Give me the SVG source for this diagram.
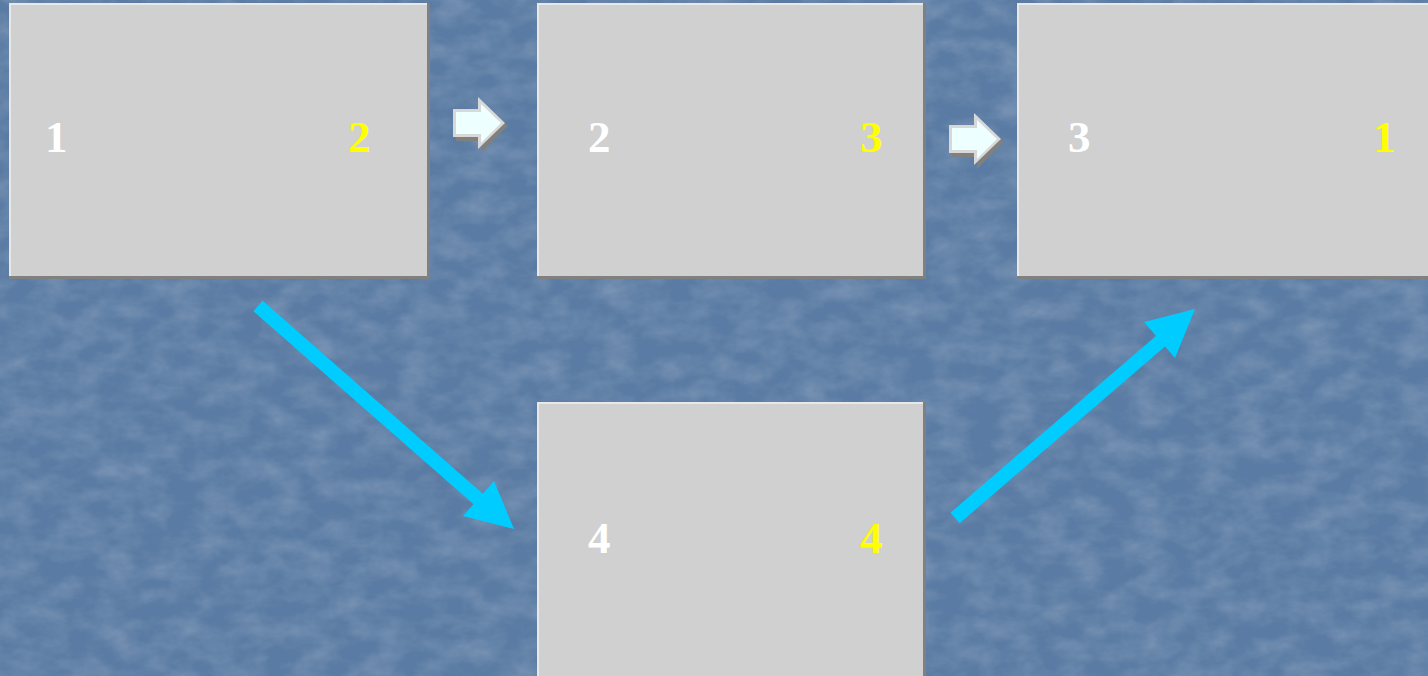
<svg xmlns="http://www.w3.org/2000/svg" width="1428" height="676" viewBox="0 0 1428 676">
<defs>
<style>
.box{fill:#d0d0d0}
.hl{fill:#e8e8e8}
.sh{fill:#808080}
.num{font-family:"Liberation Serif",serif;font-weight:bold;font-size:45px}
.w{fill:#ffffff}
.y{fill:#ffff00}
.big{fill:#00ccff}
</style>
<filter id="tex" x="0" y="0" width="100%" height="100%">
<feTurbulence type="fractalNoise" baseFrequency="0.03 0.05" numOctaves="4" seed="7"/>
<feColorMatrix type="matrix" values="0 0 0 0 1  0 0 0 0 1  0 0 0 0 1  0 0 0 0.3 -0.1"/>
</filter>
<g id="blockarrow">
<path d="M3,15 H28 V3 L55,29 L28,56 V44 H3 Z" fill="#808080"/>
<path d="M0,12 H25 V0 L52,26 L25,52 V40 H0 Z" fill="#d8d8d8"/>
<path d="M3,15 H28 V7 L48,26 L28,46 V37 H3 Z" fill="#eeffff"/>
</g>
</defs>
<rect width="1428" height="676" fill="#5a7ba3"/>
<rect width="1428" height="676" filter="url(#tex)"/>

<g id="node1">
<rect x="9" y="3" width="421" height="276" class="sh"/>
<rect x="9" y="3" width="418" height="273" class="hl"/>
<rect x="11" y="5" width="416" height="271" class="box"/>
<text x="45" y="152" class="num w">1</text>
<text x="348" y="152" class="num y">2</text>
</g>
<g id="node2">
<rect x="537" y="3" width="389" height="276" class="sh"/>
<rect x="537" y="3" width="386" height="273" class="hl"/>
<rect x="539" y="5" width="384" height="271" class="box"/>
<text x="588" y="152" class="num w">2</text>
<text x="860" y="152" class="num y">3</text>
</g>
<g id="node3">
<rect x="1017" y="3" width="420" height="276" class="sh"/>
<rect x="1017" y="3" width="417" height="273" class="hl"/>
<rect x="1019" y="5" width="415" height="271" class="box"/>
<text x="1068" y="152" class="num w">3</text>
<text x="1373" y="152" class="num y">1</text>
</g>
<g id="node4">
<rect x="537" y="402" width="389" height="280" class="sh"/>
<rect x="537" y="402" width="386" height="280" class="hl"/>
<rect x="539" y="404" width="384" height="280" class="box"/>
<text x="588" y="553" class="num w">4</text>
<text x="860" y="553" class="num y">4</text>
</g>

<g id="connectors">
<use href="#blockarrow" x="453" y="97"/>
<use href="#blockarrow" x="949" y="113"/>
<line x1="258" y1="306" x2="485" y2="505" stroke="#00ccff" stroke-width="14"/>
<path d="M514,529 L494,481 L463,516 Z" class="big"/>
<line x1="955" y1="518" x2="1170" y2="333" stroke="#00ccff" stroke-width="14"/>
<path d="M1195,309 L1144,322 L1175,358 Z" class="big"/>
</g>
</svg>
